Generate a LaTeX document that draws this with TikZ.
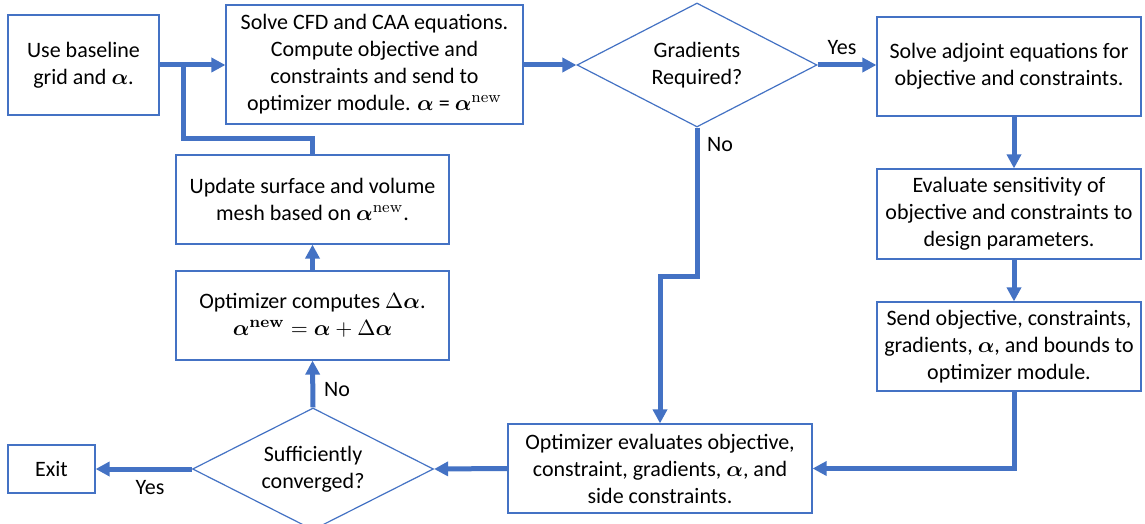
\documentclass[tikz,border=0pt]{standalone}
\usepackage{amsmath,bm}
\usepackage[no-math]{fontspec}
\setmainfont{Carlito}
\usetikzlibrary{arrows.meta,shapes.geometric}
\definecolor{obl}{HTML}{4472C4}
\newcommand{\balpha}{\bm{\alpha}}
\begin{document}
\begin{tikzpicture}[x=0.5pt,y=-0.5pt,
  box/.style={draw=obl, line width=0.6pt, align=center, inner sep=0pt, fill=white,
    font=\fontsize{11}{13.5}\selectfont},
  dia/.style={diamond, draw=obl, line width=0.6pt, align=center, inner sep=0pt, aspect=2,
    font=\fontsize{11}{13.5}\selectfont},
  flow/.style={draw=obl, line width=2.5pt, -{Triangle[length=7pt,width=7pt]}},
  conn/.style={draw=obl, line width=2.5pt},
  lbl/.style={font=\fontsize{11}{13}\selectfont, inner sep=0pt}]
\clip (0,0) rectangle (1145,524);
\fill[white] (0,0) rectangle (1145,524);

\node[box, minimum width=75.5pt, minimum height=50pt] (A) at (83.5,65)
  {Use baseline\\grid and $\balpha$.};
\node[box, minimum width=148.5pt, minimum height=59.5pt] (B) at (374.5,64.5)
  {Solve CFD and CAA equations.\\Compute objective and\\constraints and send to\\optimizer module. $\balpha$ = $\balpha^{\mathrm{new}}$};
\node[dia, minimum width=120pt, minimum height=62pt] (D1) at (697,65)
  {Gradients\\Required?};
\node[box, minimum width=132pt, minimum height=49.5pt] (Adj) at (1009,66.5)
  {Solve adjoint equations for\\objective and constraints.};
\node[box, minimum width=132pt, minimum height=45pt] (Eval) at (1009,214)
  {Evaluate sensitivity of\\objective and constraints to\\design parameters.};
\node[box, minimum width=132pt, minimum height=44.5pt] (Send) at (1009,346.5)
  {Send objective, constraints,\\gradients, $\balpha$, and bounds to\\optimizer module.};
\node[box, minimum width=152pt, minimum height=44.5pt] (OptEval) at (660,468.5)
  {Optimizer evaluates objective,\\constraint, gradients, $\balpha$, and\\side constraints.};
\node[dia, minimum width=120.5pt, minimum height=61pt] (D2) at (313,469)
  {Sufficiently\\converged?};
\node[box, minimum width=43.5pt, minimum height=24pt] (Exit) at (51.5,469) {Exit};
\node[box, minimum width=136.5pt, minimum height=44.5pt] (OptComp) at (312.5,315.5)
  {Optimizer computes $\Delta\balpha$.\\$\balpha^{\mathbf{new}} = \balpha + \Delta\balpha$};
\node[box, minimum width=136.5pt, minimum height=44.5pt] (Upd) at (312.5,199.5)
  {Update surface and volume\\mesh based on $\balpha^{\mathrm{new}}$.};

\coordinate (jn) at (183,138);
\coordinate (ax) at (1014,0);
\coordinate (nb) at (660,276);

\draw[flow] (A.east) -- (A.east -| B.west);
\draw[conn] (Upd.north) |- (jn) -- (jn |- A.east);
\draw[flow] (B.east |- D1.west) -- (D1.west);
\draw[flow] (D1.east) -- (D1.east -| Adj.west);
\draw[flow] (ax |- Adj.south) -- (ax |- Eval.north);
\draw[flow] (ax |- Eval.south) -- (ax |- Send.north);
\draw[flow] (ax |- Send.south) |- (OptEval.east);
\draw[flow] (D1.south) |- (nb) -- (nb |- OptEval.north);
\draw[flow] (OptEval.west) -- (D2.east);
\draw[flow] (D2.west) -- (Exit.east);
\draw[flow] (D2.north) -- (OptComp.south);
\draw[flow] (OptComp.north) -- (Upd.south);

\node[lbl] (yes1) at (842,48) {Yes};
\node[lbl] (no1) at (720,145) {No};
\node[lbl] (no2) at (337,390) {No};
\node[lbl] (yes2) at (150,488) {Yes};
\end{tikzpicture}
\end{document}
